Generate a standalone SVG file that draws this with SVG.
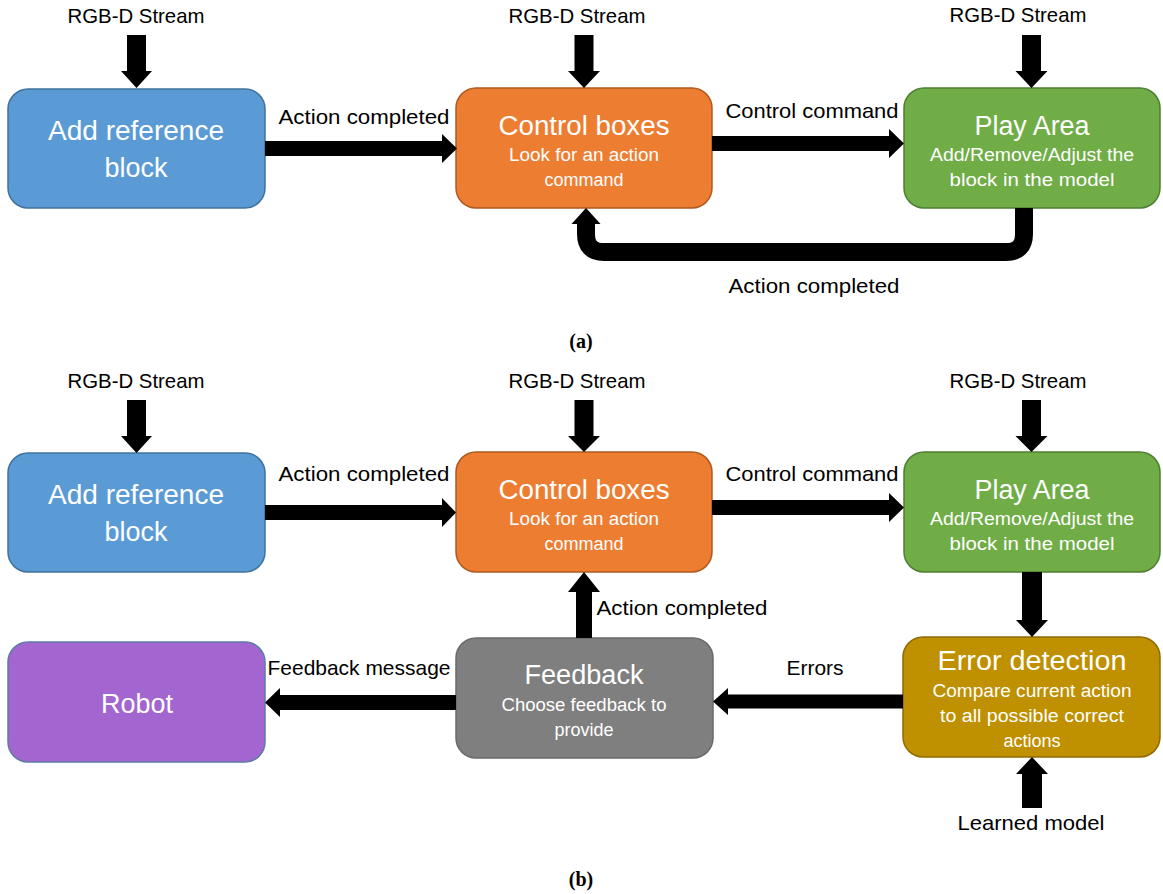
<svg xmlns="http://www.w3.org/2000/svg" width="1163" height="894" viewBox="0 0 1163 894">
<style>
.lbl{font-family:"Liberation Sans",Arial,sans-serif;font-size:21px;fill:#000;text-anchor:middle}
.t{font-family:"Liberation Sans",Arial,sans-serif;font-size:27px;fill:#fff;text-anchor:middle}
.s{font-family:"Liberation Sans",Arial,sans-serif;font-size:18px;fill:#fff;text-anchor:middle}
.cap{font-family:"Liberation Serif","Times New Roman",serif;font-size:20px;font-weight:bold;fill:#000;text-anchor:middle}
.box{stroke-width:1.5}
.arr{fill:#000}
</style>
<rect width="1163" height="894" fill="#fff"/>

<!-- (a) -->
<g id="a-ref"><rect class="box" x="8" y="89" width="257" height="119" rx="20" fill="#5B9BD5" stroke="#41719C"/>
<text class="t" x="136" y="140" textLength="176" lengthAdjust="spacingAndGlyphs">Add reference</text>
<text class="t" x="136" y="177">block</text></g>
<g id="a-control"><rect class="box" x="456" y="88" width="256" height="120" rx="20" fill="#ED7D31" stroke="#AE5A21"/>
<text class="t" x="584" y="135" textLength="171" lengthAdjust="spacingAndGlyphs">Control boxes</text>
<text class="s" x="584" y="161" textLength="150" lengthAdjust="spacingAndGlyphs">Look for an action</text>
<text class="s" x="584" y="186">command</text></g>
<g id="a-play"><rect class="box" x="904" y="88" width="256" height="120" rx="20" fill="#70AD47" stroke="#507E32"/>
<text class="t" x="1032" y="135" textLength="115" lengthAdjust="spacingAndGlyphs">Play Area</text>
<text class="s" x="1032" y="161" textLength="204" lengthAdjust="spacingAndGlyphs">Add/Remove/Adjust the</text>
<text class="s" x="1032" y="186" textLength="165" lengthAdjust="spacingAndGlyphs">block in the model</text></g>

<g id="a-connectors">
<text class="lbl" x="136" y="23" textLength="137" lengthAdjust="spacingAndGlyphs">RGB-D Stream</text>
<text class="lbl" x="577" y="23" textLength="137" lengthAdjust="spacingAndGlyphs">RGB-D Stream</text>
<text class="lbl" x="1018" y="22" textLength="137" lengthAdjust="spacingAndGlyphs">RGB-D Stream</text>
<polygon class="arr" points="127,35 146,35 146,71 152,71 136.5,88 121,71 127,71"/>
<polygon class="arr" points="574.5,35 593.5,35 593.5,71 600,71 584,88 568,71 574.5,71"/>
<polygon class="arr" points="1022,35 1041,35 1041,71 1047.5,71 1031.5,88 1015.5,71 1022,71"/>
<polygon class="arr" points="265,141 442,141 442,134 457,148.5 442,163 442,156 265,156"/>
<polygon class="arr" points="712,136 889,136 889,129 904,143.5 889,158 889,151 712,151"/>
<path d="M1024 208 V234 Q1024 252 1006 252 H604 Q586 252 586 234 V222" fill="none" stroke="#000" stroke-width="18"/>
<polygon class="arr" points="571.5,224 600.5,224 586,208"/>
<text class="lbl" x="364" y="124" textLength="171" lengthAdjust="spacingAndGlyphs">Action completed</text>
<text class="lbl" x="812" y="118" textLength="173" lengthAdjust="spacingAndGlyphs">Control command</text>
<text class="lbl" x="814" y="293" textLength="171" lengthAdjust="spacingAndGlyphs">Action completed</text>
</g>
<text class="cap" x="581" y="348">(a)</text>

<!-- (b) -->
<g id="b-ref"><rect class="box" x="8" y="453" width="257" height="119" rx="20" fill="#5B9BD5" stroke="#41719C"/>
<text class="t" x="136" y="504" textLength="176" lengthAdjust="spacingAndGlyphs">Add reference</text>
<text class="t" x="136" y="541">block</text></g>
<g id="b-control"><rect class="box" x="456" y="452" width="256" height="120" rx="20" fill="#ED7D31" stroke="#AE5A21"/>
<text class="t" x="584" y="499" textLength="171" lengthAdjust="spacingAndGlyphs">Control boxes</text>
<text class="s" x="584" y="525" textLength="150" lengthAdjust="spacingAndGlyphs">Look for an action</text>
<text class="s" x="584" y="550">command</text></g>
<g id="b-play"><rect class="box" x="904" y="452" width="256" height="120" rx="20" fill="#70AD47" stroke="#507E32"/>
<text class="t" x="1032" y="499" textLength="115" lengthAdjust="spacingAndGlyphs">Play Area</text>
<text class="s" x="1032" y="525" textLength="204" lengthAdjust="spacingAndGlyphs">Add/Remove/Adjust the</text>
<text class="s" x="1032" y="550" textLength="165" lengthAdjust="spacingAndGlyphs">block in the model</text></g>
<g id="b-error"><rect class="box" x="903" y="637" width="257" height="120" rx="20" fill="#BF9000" stroke="#8F6B00"/>
<text class="t" x="1032" y="670" textLength="189" lengthAdjust="spacingAndGlyphs">Error detection</text>
<text class="s" x="1032" y="697" textLength="199" lengthAdjust="spacingAndGlyphs">Compare current action</text>
<text class="s" x="1032" y="722" textLength="184" lengthAdjust="spacingAndGlyphs">to all possible correct</text>
<text class="s" x="1032" y="747">actions</text></g>
<g id="b-feedback"><rect class="box" x="456" y="638" width="257" height="120" rx="20" fill="#7F7F7F" stroke="#6A6A6A"/>
<text class="t" x="584" y="684" textLength="119" lengthAdjust="spacingAndGlyphs">Feedback</text>
<text class="s" x="584" y="711" textLength="165" lengthAdjust="spacingAndGlyphs">Choose feedback to</text>
<text class="s" x="584" y="736">provide</text></g>
<g id="b-robot"><rect class="box" x="8" y="642" width="257" height="120" rx="20" fill="#A366D0" stroke="#5E7AA8"/>
<text class="t" x="137" y="713">Robot</text></g>

<g id="b-connectors">
<text class="lbl" x="136" y="388" textLength="137" lengthAdjust="spacingAndGlyphs">RGB-D Stream</text>
<text class="lbl" x="577" y="388" textLength="137" lengthAdjust="spacingAndGlyphs">RGB-D Stream</text>
<text class="lbl" x="1018" y="388" textLength="137" lengthAdjust="spacingAndGlyphs">RGB-D Stream</text>
<polygon class="arr" points="127,400 146,400 146,436 152,436 136.5,453 121,436 127,436"/>
<polygon class="arr" points="574.5,400 593.5,400 593.5,436 600,436 584,452 568,436 574.5,436"/>
<polygon class="arr" points="1022,400 1041,400 1041,436 1047.5,436 1031.5,452 1015.5,436 1022,436"/>
<polygon class="arr" points="265,505 442,505 442,498 456,512.5 442,527 442,520 265,520"/>
<polygon class="arr" points="712,500 889,500 889,493 904,507.5 889,522 889,515 712,515"/>
<polygon class="arr" points="1022,572 1042,572 1042,620 1048,620 1032,637 1016,620 1022,620"/>
<polygon class="arr" points="1022,808 1042,808 1042,774 1048,774 1032,757 1016,774 1022,774"/>
<polygon class="arr" points="903,694.5 728,694.5 728,688 713,701.5 728,715 728,708.5 903,708.5"/>
<polygon class="arr" points="456,695 280,695 280,688 265,702.5 280,717 280,710 456,710"/>
<polygon class="arr" points="576,638 592,638 592,592 600,592 584,572 568,592 576,592"/>
<text class="lbl" x="364" y="481" textLength="171" lengthAdjust="spacingAndGlyphs">Action completed</text>
<text class="lbl" x="812" y="481" textLength="173" lengthAdjust="spacingAndGlyphs">Control command</text>
<text class="lbl" x="682" y="615" textLength="171" lengthAdjust="spacingAndGlyphs">Action completed</text>
<text class="lbl" x="359" y="675" textLength="183" lengthAdjust="spacingAndGlyphs">Feedback message</text>
<text class="lbl" x="815" y="675" textLength="57" lengthAdjust="spacingAndGlyphs">Errors</text>
<text class="lbl" x="1031" y="830" textLength="147" lengthAdjust="spacingAndGlyphs">Learned model</text>
</g>
<text class="cap" x="581" y="886">(b)</text>
</svg>
